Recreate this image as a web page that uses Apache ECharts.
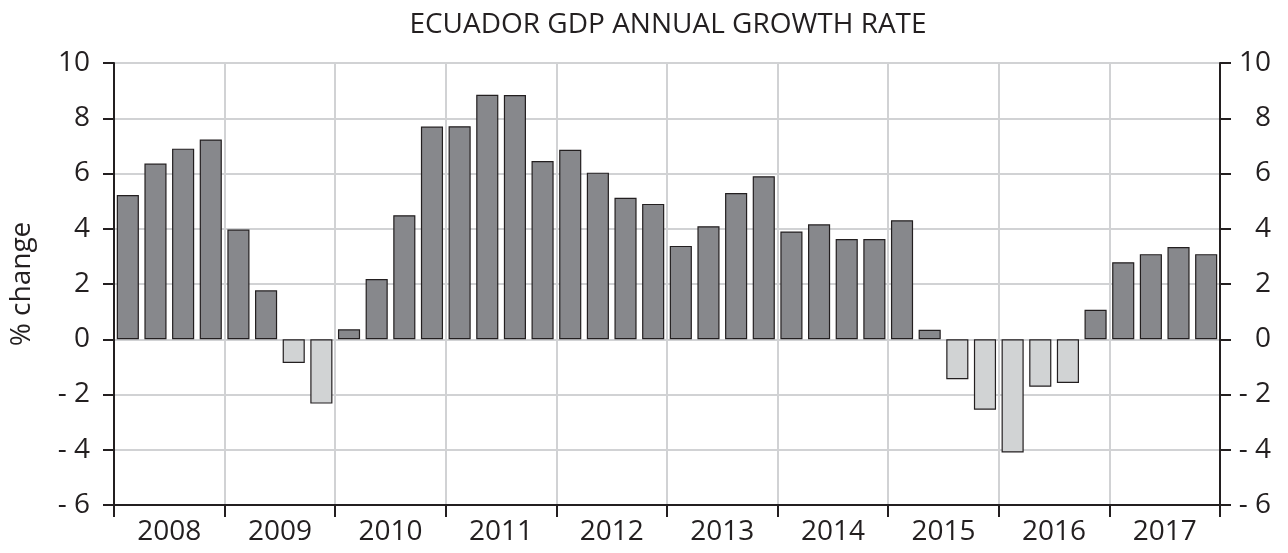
<!DOCTYPE html>
<html>
<head>
<meta charset="utf-8">
<script src="https://cdn.jsdelivr.net/npm/echarts@6/dist/echarts.min.js"></script>
<style>
html,body{margin:0;padding:0;background:#fff;}
#c{width:1288px;height:553px;}
</style>
</head>
<body>
<div id="c"></div>
<script>
var years = ['2008','2009','2010','2011','2012','2013','2014','2015','2016','2017'];
var quarters = ['Q1','Q2','Q3','Q4'];
var growth = [
  5.22, 6.36, 6.90, 7.23,
  3.97, 1.77, -0.86, -2.33,
  0.36, 2.18, 4.49, 7.70,
  7.71, 8.85, 8.84, 6.45,
  6.86, 6.03, 5.12, 4.90,
  3.38, 4.09, 5.29, 5.90,
  3.90, 4.16, 3.63, 3.63,
  4.31, 0.34, -1.45, -2.55,
  -4.10, -1.72, -1.58, 1.07,
  2.79, 3.08, 3.34, 3.08
];
var yTicks = {min: -6, max: 10, step: 2};

var quarterCats = [];
years.forEach(function(y){ quarters.forEach(function(q){ quarterCats.push(y + ' ' + q); }); });

var FONT = 'Open Sans';
var TXT = '#231f20';
var GRID = '#d1d2d4';
function fmt(v){ return v < 0 ? '- ' + Math.abs(v) : String(v); }

var chart = echarts.init(document.getElementById('c'));
chart.setOption({
  animation: false,
  backgroundColor: '#ffffff',
  title: {
    text: 'ECUADOR GDP ANNUAL GROWTH RATE',
    left: 663, top: 6, textAlign: 'center',
    textStyle: {fontFamily: FONT, fontSize: 28, fontWeight: 'normal', color: TXT}
  },
  grid: {left: 114, right: 68, top: 63, bottom: 48, containLabel: false},
  xAxis: [
    {type: 'category', data: quarterCats, show: false, boundaryGap: true},
    {type: 'category', data: years, position: 'bottom', boundaryGap: true,
     axisLine: {show: true, onZero: false, lineStyle: {color: TXT, width: 2}},
     axisTick: {show: true, interval: 0, length: 12, lineStyle: {color: TXT, width: 2}},
     axisLabel: {interval: 0, margin: 13, fontFamily: FONT, fontSize: 28, color: TXT},
     splitLine: {show: true, interval: 0, lineStyle: {color: GRID, width: 2}}}
  ],
  yAxis: [
    {type: 'value', min: yTicks.min, max: yTicks.max, interval: yTicks.step, position: 'left',
     name: '% change', nameLocation: 'middle', nameGap: 78, nameRotate: 90,
     nameTextStyle: {fontFamily: FONT, fontSize: 28, color: TXT},
     axisLine: {show: true, lineStyle: {color: TXT, width: 2}},
     axisTick: {show: true, length: 11, lineStyle: {color: TXT, width: 2}},
     axisLabel: {margin: 24, fontFamily: FONT, fontSize: 28, color: TXT, formatter: fmt},
     splitLine: {show: true, lineStyle: {color: GRID, width: 2}}},
    {type: 'value', min: yTicks.min, max: yTicks.max, interval: yTicks.step, position: 'right',
     axisLine: {show: true, lineStyle: {color: TXT, width: 2}},
     axisTick: {show: true, length: 11, lineStyle: {color: TXT, width: 2}},
     axisLabel: {margin: 51, align: 'right', fontFamily: FONT, fontSize: 28, color: TXT, formatter: fmt},
     splitLine: {show: false}}
  ],
  series: [{
    type: 'bar', xAxisIndex: 0, yAxisIndex: 0,
    data: growth,
    barWidth: '80%',
    itemStyle: {
      color: function(p){ return p.value < 0 ? '#d1d3d4' : '#87888c'; },
      borderColor: '#231f20', borderWidth: 1.2
    }
  }]
});
</script>
</body>
</html>
